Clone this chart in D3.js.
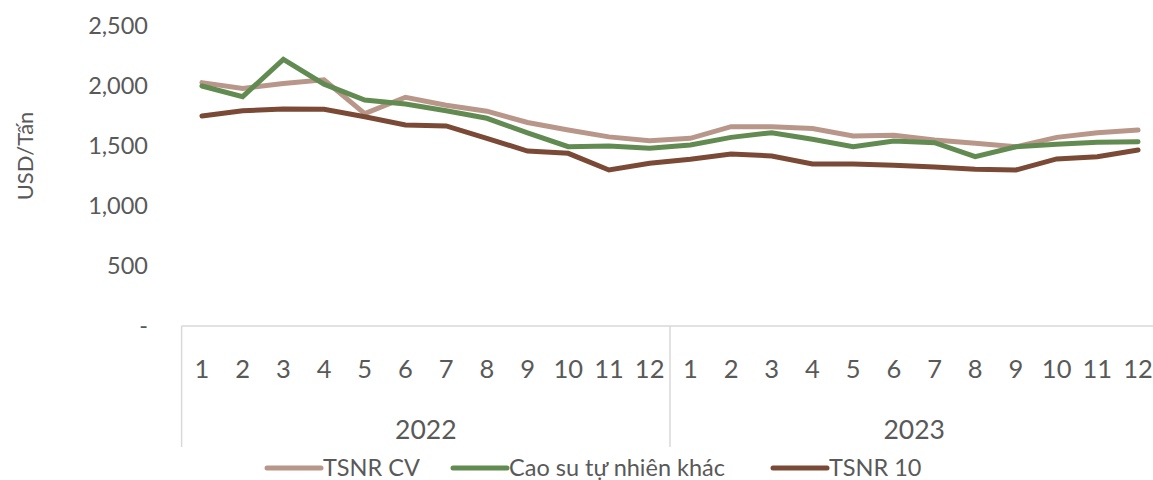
<!DOCTYPE html>
<html>
<head>
<meta charset="utf-8">
<script src="https://cdn.jsdelivr.net/npm/d3@7"></script>
<style>
  html, body { margin: 0; padding: 0; background: #fff; }
  svg { display: block; font-family: Lato, "Open Sans", sans-serif; }
</style>
</head>
<body>
<svg id="chart" width="1153" height="480"></svg>
<script>
// Monthly rubber export prices, USD per tonne
const years = ["2022", "2023"];
const months = [1, 2, 3, 4, 5, 6, 7, 8, 9, 10, 11, 12];
const yTicks = [0, 500, 1000, 1500, 2000, 2500];

const tsnrCV = [2028, 1980, 2020, 2052, 1770, 1906, 1840, 1790, 1696, 1633, 1576, 1544,
                1564, 1661, 1661, 1645, 1583, 1589, 1550, 1522, 1494, 1572, 1611, 1633];
const caoSuKhac = [2000, 1911, 2222, 2015, 1883, 1850, 1794, 1731, 1610, 1494, 1500, 1481,
                   1508, 1572, 1611, 1556, 1494, 1542, 1528, 1411, 1494, 1514, 1531, 1536];
const tsnr10 = [1750, 1794, 1808, 1806, 1744, 1675, 1667, 1564, 1458, 1439, 1300, 1356,
                1389, 1433, 1417, 1350, 1350, 1339, 1325, 1306, 1300, 1392, 1411, 1467];

const seriesNames = ["TSNR CV", "Cao su tự nhiên khác", "TSNR 10"];
const seriesColors = ["#b8978a", "#628b52", "#7b4a36"];
const seriesValues = [tsnrCV, caoSuKhac, tsnr10];

const keys = years.flatMap(y => months.map(m => y + "-" + m));

const svg = d3.select("#chart");
const textColor = "#595959";
const axisColor = "#d9d9d9";

const x = d3.scaleBand().domain(keys).range([181.6, 1158.4]).padding(0);
const y = d3.scaleLinear().domain([0, 2500]).range([326, 26]);

// Y axis labels (no line)
const yAxis = d3.axisLeft(y).tickValues(yTicks).tickSize(0).tickPadding(0)
  .tickFormat(d => d === 0 ? "-" : d3.format(",")(d));
const gy = svg.append("g").attr("transform", "translate(148,0)").call(yAxis);
gy.select(".domain").remove();
gy.selectAll("text").attr("fill", textColor).style("font-size", "23.5px")
  .style("font-family", "Lato, 'Open Sans', sans-serif");

// Y axis title
svg.append("text")
  .attr("transform", "translate(33,156) rotate(-90)")
  .attr("text-anchor", "middle")
  .attr("fill", textColor)
  .style("font-size", "22px")
  .text("USD/Tấn");

// Category axis baseline
svg.append("line")
  .attr("x1", x.range()[0]).attr("x2", x.range()[1])
  .attr("y1", y(0)).attr("y2", y(0))
  .attr("stroke", axisColor).attr("stroke-width", 1.5);

// Year group separators
const groupEdges = [keys[0], keys[12]].map(k => x(k)).concat([x.range()[1]]);
svg.selectAll("line.sep").data(groupEdges).join("line")
  .attr("class", "sep")
  .attr("x1", d => d).attr("x2", d => d)
  .attr("y1", y(0)).attr("y2", 447)
  .attr("stroke", axisColor).attr("stroke-width", 1.5);

// Month labels
svg.selectAll("text.month").data(keys).join("text")
  .attr("class", "month")
  .attr("x", d => x(d) + x.bandwidth() / 2)
  .attr("y", 378)
  .attr("text-anchor", "middle")
  .attr("fill", textColor)
  .style("font-size", "25.5px")
  .text(d => d.split("-")[1]);

// Year labels
svg.selectAll("text.year").data(years).join("text")
  .attr("class", "year")
  .attr("x", (d, i) => (x(keys[i * 12]) + x(keys[i * 12 + 11]) + x.bandwidth()) / 2)
  .attr("y", 439)
  .attr("text-anchor", "middle")
  .attr("fill", textColor)
  .style("font-size", "26.5px")
  .text(d => d);

// Lines
const line = d3.line()
  .x((d, i) => x(keys[i]) + x.bandwidth() / 2)
  .y(d => y(d));

svg.selectAll("path.series").data(seriesValues).join("path")
  .attr("class", "series")
  .attr("d", d => line(d))
  .attr("fill", "none")
  .attr("stroke", (d, i) => seriesColors[i])
  .attr("stroke-width", 5)
  .attr("stroke-linejoin", "miter")
  .attr("stroke-linecap", "round");

// Legend
const legendX = [267, 453, 773];
const legend = svg.selectAll("g.legend").data(seriesNames).join("g")
  .attr("class", "legend")
  .attr("transform", (d, i) => `translate(${legendX[i]},468)`);
legend.append("line")
  .attr("x1", 0).attr("x2", 54).attr("y1", 0).attr("y2", 0)
  .attr("stroke", (d, i) => seriesColors[i])
  .attr("stroke-width", 5)
  .attr("stroke-linecap", "round");
legend.append("text")
  .attr("x", 56).attr("y", 8)
  .attr("fill", textColor)
  .style("font-size", "23.5px")
  .text(d => d);
</script>
</body>
</html>
